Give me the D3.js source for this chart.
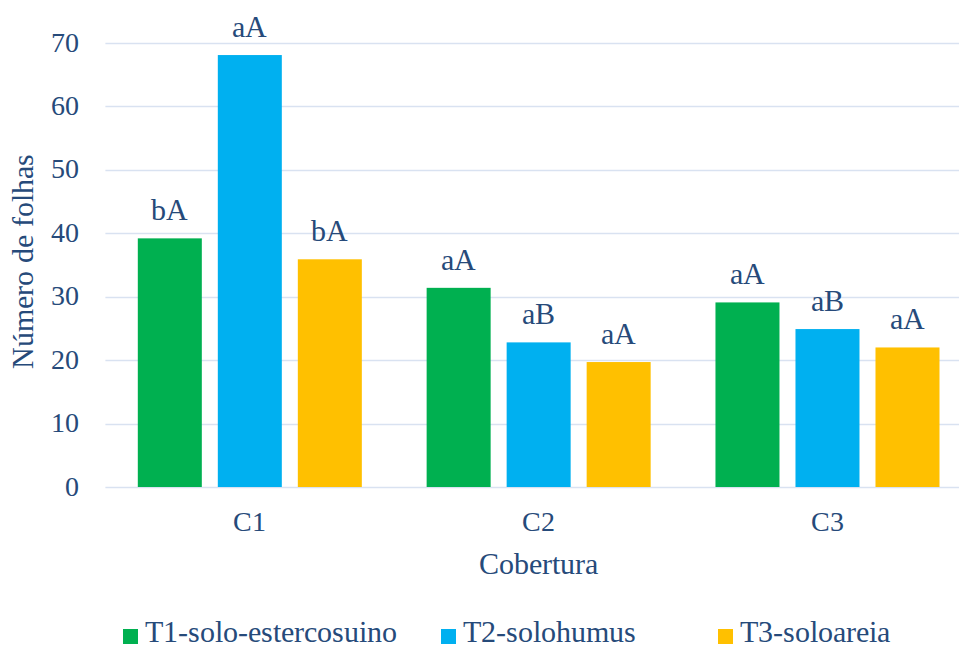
<!DOCTYPE html>
<html>
<head>
<meta charset="utf-8">
<script src="https://cdn.jsdelivr.net/npm/d3@7"></script>
<style>
  @font-face { font-family: "ChartSerif"; src: local("Liberation Serif"), local("LiberationSerif"), local("LiberationSerif-Regular"), local("DejaVu Serif"), local("DejaVuSerif"), local("Times New Roman"); }
  html, body { margin: 0; padding: 0; background: #fff; }
  svg { display: block; }
  svg text { font-family: "ChartSerif", 'Liberation Serif', 'DejaVu Serif', serif; fill: #264a7a; }
</style>
</head>
<body>
<svg id="chart" width="959" height="648"></svg>
<script>
const categories = ["C1", "C2", "C3"];
const seriesNames = ["T1-solo-estercosuino", "T2-solohumus", "T3-soloareia"];
const seriesColors = ["#00B050", "#00B0F0", "#FFC000"];
const t1Values = [39.2, 31.4, 29.1];
const t2Values = [68.1, 22.8, 24.9];
const t3Values = [35.9, 19.7, 22.0];
const t1Labels = ["bA", "aA", "aA"];
const t2Labels = ["aA", "aB", "aB"];
const t3Labels = ["bA", "aA", "aA"];
const yTicks = [0, 10, 20, 30, 40, 50, 60, 70];

const seriesValues = [t1Values, t2Values, t3Values];
const seriesLabels = [t1Labels, t2Labels, t3Labels];

const svg = d3.select("#chart");
const plotLeft = 105.4, plotRight = 971.9, plotTop = 43, plotBottom = 487;

const x0 = d3.scaleBand().domain(categories).range([plotLeft, plotRight]).padding(0);
const x1 = d3.scaleBand().domain(seriesNames).range([0, x0.bandwidth()])
  .paddingInner(0.2).paddingOuter(0.405);
const y = d3.scaleLinear().domain([0, 70]).range([plotBottom, plotTop]);

// gridlines
svg.append("g").selectAll("line").data(yTicks).join("line")
  .attr("x1", plotLeft).attr("x2", 959)
  .attr("y1", d => Math.round(y(d)) + 0.5).attr("y2", d => Math.round(y(d)) + 0.5)
  .attr("stroke", "#d9e2f1").attr("stroke-width", 1.3);

// y tick labels
svg.append("g").selectAll("text").data(yTicks).join("text")
  .attr("x", 79).attr("y", d => y(d) + 8.5)
  .attr("text-anchor", "end").attr("font-size", 28)
  .text(d => d);

// bars
const rows = [];
categories.forEach((c, ci) => {
  seriesNames.forEach((s, si) => {
    rows.push({cat: c, series: s, value: seriesValues[si][ci], label: seriesLabels[si][ci], color: seriesColors[si]});
  });
});

const g = svg.append("g");
g.selectAll("rect").data(rows).join("rect")
  .attr("x", d => x0(d.cat) + x1(d.series))
  .attr("y", d => y(d.value))
  .attr("width", x1.bandwidth())
  .attr("height", d => y(0) - y(d.value))
  .attr("fill", d => d.color);

g.selectAll("text").data(rows).join("text")
  .attr("x", d => x0(d.cat) + x1(d.series) + x1.bandwidth() / 2)
  .attr("y", d => y(d.value) - 18)
  .attr("text-anchor", "middle").attr("font-size", 30)
  .text(d => d.label);

// x category labels
svg.append("g").selectAll("text").data(categories).join("text")
  .attr("x", d => x0(d) + x0.bandwidth() / 2)
  .attr("y", 531)
  .attr("text-anchor", "middle").attr("font-size", 28)
  .text(d => d);

// axis titles
svg.append("text").attr("x", 538).attr("y", 574)
  .attr("text-anchor", "middle").attr("font-size", 30).text("Cobertura");
svg.append("text")
  .attr("transform", "translate(33,261) rotate(-90)")
  .attr("text-anchor", "middle").attr("font-size", 30).text("Número de folhas");

// legend
const legendX = [123, 441, 718];
const lg = svg.append("g").selectAll("g").data(seriesNames).join("g")
  .attr("transform", (d, i) => `translate(${legendX[i]},0)`);
lg.append("rect").attr("x", 0).attr("y", 629).attr("width", 15).attr("height", 15)
  .attr("fill", (d, i) => seriesColors[i]);
lg.append("text").attr("x", 22).attr("y", 642).attr("font-size", 30).text(d => d);
</script>
</body>
</html>
